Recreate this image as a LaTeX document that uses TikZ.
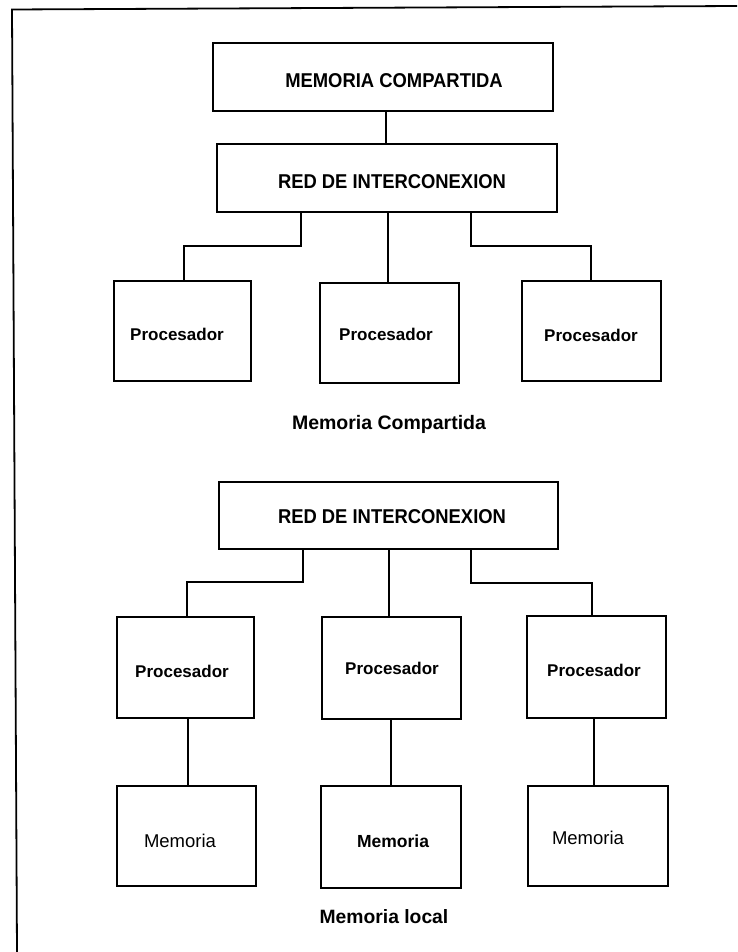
\documentclass[tikz,border=0pt]{standalone}
\usepackage{fontspec}
\setmainfont{Liberation Sans}
\newfontfamily\capsfont[FakeStretch=0.92]{Liberation Sans}
\begin{document}
\begin{tikzpicture}[x=1pt,y=-1pt,
  frame/.style={line width=1.8pt},
  unit/.style={draw, line width=1.6pt, inner sep=0pt, outer sep=0pt, anchor=north west},
  wire/.style={line width=1.2pt},
  heading/.style={anchor=base, inner sep=0pt, font=\capsfont\bfseries\fontsize{20}{22}\selectfont},
  cpu/.style={anchor=base, inner sep=0pt, font=\bfseries\fontsize{17}{20}\selectfont},
  mem/.style={anchor=base, inner sep=0pt, font=\fontsize{18.5}{21}\selectfont},
  caption/.style={anchor=base, inner sep=0pt}]
\useasboundingbox (0,0) rectangle (737,952);

% open frame: top and left edges
\draw[frame] (737,6) -- (12,9.5) -- (17,952);

% ---- shared-memory organisation ----
\node[unit, minimum width=340pt, minimum height=68pt] (mc) at (213,43) {};
\node[heading] (mct) at (394,88) {MEMORIA COMPARTIDA};
\node[unit, minimum width=340pt, minimum height=68pt] (rd1) at (217,144) {};
\node[heading] (rd1t) at (392,188) {RED DE INTERCONEXION};

\node[unit, minimum width=137pt, minimum height=100pt] (p1) at (114,281) {};
\node[unit, minimum width=139pt, minimum height=100pt] (p2) at (320,283) {};
\node[unit, minimum width=139pt, minimum height=100pt] (p3) at (522,281) {};
\node[cpu] (p1t) at (177,340) {Procesador};
\node[cpu] (p2t) at (386,340.5) {Procesador};
\node[cpu] (p3t) at (591,341) {Procesador};

\draw[wire] (mc.south -| 386,0) -- (rd1.north -| 386,0);
\draw[wire] (rd1.south -| 301,0) -- (301,246) -| (p1.north -| 184,0);
\draw[wire] (rd1.south -| 388,0) -- (p2.north -| 388,0);
\draw[wire] (rd1.south -| 471,0) -- (471,246) -| (p3.north -| 591,0);

\node[caption, font=\bfseries\fontsize{19.5}{22}\selectfont] (cap1) at (389,429) {Memoria Compartida};

% ---- local-memory organisation ----
\node[unit, minimum width=339pt, minimum height=67pt] (rd2) at (219,482) {};
\node[heading] (rd2t) at (392,523) {RED DE INTERCONEXION};

\node[unit, minimum width=137pt, minimum height=101pt] (q1) at (117,617) {};
\node[unit, minimum width=139pt, minimum height=102pt] (q2) at (322,617) {};
\node[unit, minimum width=139pt, minimum height=102pt] (q3) at (527,616) {};
\node[cpu] (q1t) at (182,677) {Procesador};
\node[cpu] (q2t) at (392,674) {Procesador};
\node[cpu] (q3t) at (594,676) {Procesador};

\draw[wire] (rd2.south -| 303,0) -- (303,582) -| (q1.north -| 187,0);
\draw[wire] (rd2.south -| 389,0) -- (q2.north -| 389,0);
\draw[wire] (rd2.south -| 471,0) -- (471,583) -| (q3.north -| 592,0);

\node[unit, minimum width=139pt, minimum height=100pt] (m1) at (117,786) {};
\node[unit, minimum width=140pt, minimum height=102pt] (m2) at (321,786) {};
\node[unit, minimum width=140pt, minimum height=100pt] (m3) at (528,786) {};
\node[mem] (m1t) at (180,847) {Memoria};
\node[mem, font=\bfseries\fontsize{17.5}{20}\selectfont] (m2t) at (393,847) {Memoria};
\node[mem] (m3t) at (588,844) {Memoria};

\draw[wire] (q1.south -| 188,0) -- (m1.north -| 188,0);
\draw[wire] (q2.south -| 391,0) -- (m2.north -| 391,0);
\draw[wire] (q3.south -| 594,0) -- (m3.north -| 594,0);

\node[caption, font=\bfseries\fontsize{19.3}{22}\selectfont] (cap2) at (384,923) {Memoria local};
\end{tikzpicture}
\end{document}
